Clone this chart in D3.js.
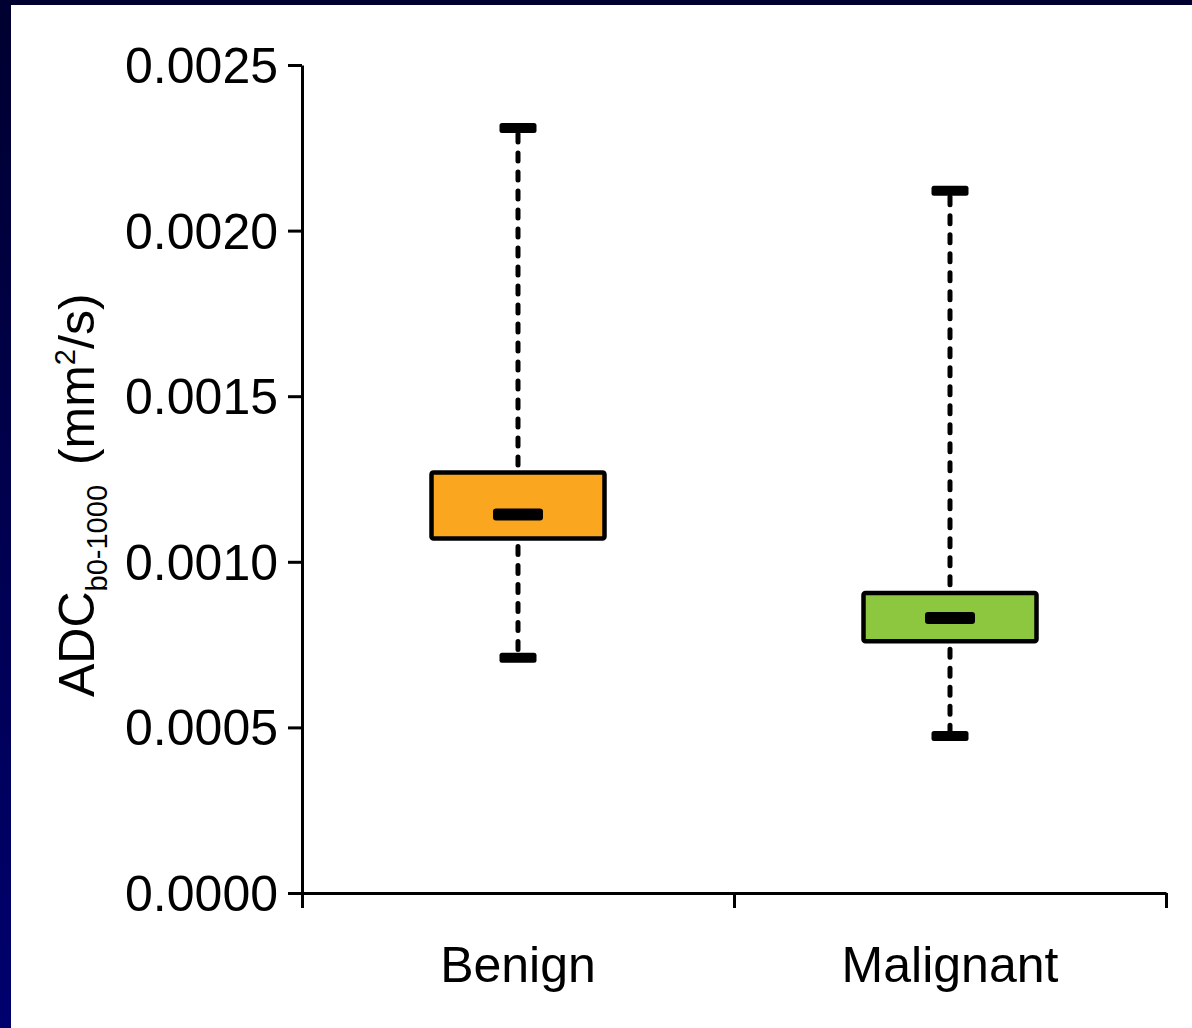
<!DOCTYPE html>
<html>
<head>
<meta charset="utf-8">
<script src="https://cdn.jsdelivr.net/npm/d3@7"></script>
<style>
  html, body { margin: 0; padding: 0; background: #00004a; }
  svg { display: block; }
  text { font-family: "Liberation Sans", Arial, Helvetica, sans-serif; fill: #000; }
</style>
</head>
<body>
<div id="chart"></div>
<script>
// data
var categories = ["Benign", "Malignant"];
var whiskerLow = [0.00071, 0.000474];
var q1 = [0.00107, 0.00076];
var median = [0.001143, 0.00083];
var q3 = [0.00127, 0.000906];
var whiskerHigh = [0.00231, 0.00212];
var boxColors = ["#faa61f", "#8dc63f"];
var yTicks = [0, 0.0005, 0.0010, 0.0015, 0.0020, 0.0025];

var svgWidth = 1192, svgHeight = 1028;
var margin = { top: 65, bottom: 135, left: 302, right: 26 };
var width = svgWidth - margin.left - margin.right;
var height = svgHeight - margin.top - margin.bottom;

var svg = d3.select("#chart").append("svg")
  .attr("width", svgWidth)
  .attr("height", svgHeight);

// navy frame, darker at top
var grad = svg.append("defs").append("linearGradient")
  .attr("id", "frame").attr("x1", 0).attr("y1", 0).attr("x2", 0).attr("y2", 1);
grad.append("stop").attr("offset", "0%").attr("stop-color", "#000030");
grad.append("stop").attr("offset", "100%").attr("stop-color", "#00006e");
svg.append("rect").attr("width", svgWidth).attr("height", svgHeight).attr("fill", "url(#frame)");
svg.append("rect").attr("x", 11).attr("y", 5)
  .attr("width", svgWidth - 11).attr("height", svgHeight - 5).attr("fill", "#fff");

var chartGroup = svg.append("g")
  .attr("transform", `translate(${margin.left}, ${margin.top})`);

// scales
var yScale = d3.scaleLinear().domain([0, 0.0025]).range([height, 0]);
var xScale = d3.scalePoint().domain(categories).range([0, width]).padding(0.5);
var xEdges = d3.scaleLinear().domain([0, categories.length]).range([0, width]);

// axes
var yAxis = d3.axisLeft(yScale).tickValues(yTicks).tickFormat(d3.format(".4f"))
  .tickSize(14).tickSizeOuter(0).tickPadding(10);
var gy = chartGroup.append("g").call(yAxis);
gy.selectAll("text").style("font-size", "50px").attr("dy", "0.35em");

var xAxis = d3.axisBottom(xEdges).tickValues([0, 1, 2]).tickFormat("")
  .tickSize(15).tickSizeOuter(0);
var gx = chartGroup.append("g").attr("transform", `translate(0, ${height})`).call(xAxis);

chartGroup.selectAll(".domain, .tick line")
  .attr("stroke", "#000").attr("stroke-width", 3);

// category labels
chartGroup.selectAll(".cat").data(categories).enter().append("text")
  .attr("class", "cat")
  .attr("x", d => xScale(d))
  .attr("y", height + 89)
  .attr("text-anchor", "middle")
  .style("font-size", "50px")
  .text(d => d);

// boxes
var boxW = 173, capW = 37, medW = 50;
var boxes = chartGroup.selectAll(".box").data(categories).enter().append("g").attr("class", "box");

boxes.append("line")
  .attr("x1", d => xScale(d)).attr("x2", d => xScale(d))
  .attr("y1", (d, i) => yScale(whiskerHigh[i]) + 6).attr("y2", (d, i) => yScale(q3[i]))
  .attr("stroke", "#000").attr("stroke-width", 5)
  .attr("stroke-linecap", "round").attr("stroke-dasharray", "8,11");
boxes.append("line")
  .attr("x1", d => xScale(d)).attr("x2", d => xScale(d))
  .attr("y1", (d, i) => yScale(q1[i]) + 8).attr("y2", (d, i) => yScale(whiskerLow[i]))
  .attr("stroke", "#000").attr("stroke-width", 5)
  .attr("stroke-linecap", "round").attr("stroke-dasharray", "8,11");

[whiskerHigh, whiskerLow].forEach(function(arr) {
  boxes.append("rect")
    .attr("x", d => xScale(d) - capW / 2)
    .attr("y", (d, i) => yScale(arr[i]) - 5)
    .attr("width", capW).attr("height", 10).attr("rx", 2.5)
    .attr("fill", "#000");
});

boxes.append("rect")
  .attr("x", d => xScale(d) - boxW / 2)
  .attr("y", (d, i) => yScale(q3[i]))
  .attr("width", boxW)
  .attr("height", (d, i) => yScale(q1[i]) - yScale(q3[i]))
  .attr("rx", 2)
  .attr("fill", (d, i) => boxColors[i])
  .attr("stroke", "#000").attr("stroke-width", 4.5);

boxes.append("rect")
  .attr("x", d => xScale(d) - medW / 2)
  .attr("y", (d, i) => yScale(median[i]) - 6)
  .attr("width", medW).attr("height", 12).attr("rx", 3)
  .attr("fill", "#000");

// y axis title
var title = svg.append("text")
  .attr("transform", "translate(94, 697) rotate(-90)")
  .attr("text-anchor", "start")
  .style("font-size", "50px");
title.append("tspan").text("ADC");
title.append("tspan").attr("dy", 13).style("font-size", "29px").text("b0-1000");
title.append("tspan").attr("dy", -13).attr("dx", 6).text("\u00a0(mm");
title.append("tspan").attr("dy", -19).style("font-size", "29px").text("2");
title.append("tspan").attr("dy", 19).text("/s)");
</script>
</body>
</html>
